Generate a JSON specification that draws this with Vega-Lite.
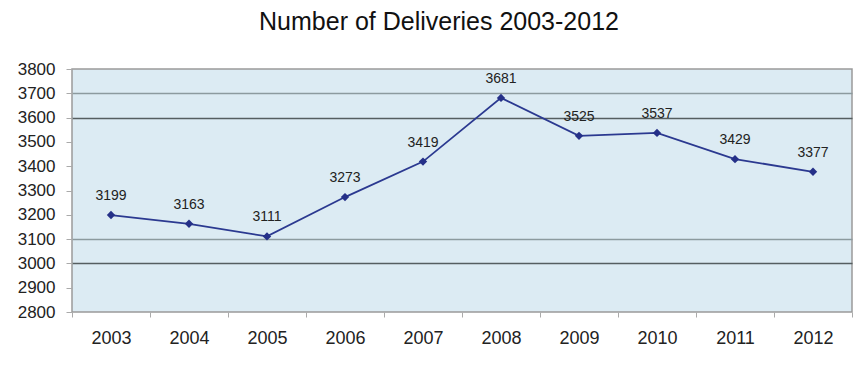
{
  "$schema": "https://vega.github.io/schema/vega-lite/v6.json",
  "width": 780,
  "height": 243,
  "autosize": {"type": "none"},
  "padding": {"left": 72, "top": 69, "right": 15, "bottom": 53},
  "background": "white",
  "title": {
    "text": "Number of Deliveries 2003-2012",
    "font": "Liberation Sans",
    "fontSize": 25,
    "fontWeight": "normal",
    "color": "#111111",
    "anchor": "middle",
    "dx": -23,
    "baseline": "alphabetic",
    "offset": 5
  },
  "config": {
    "view": {"fill": "#dcebf3", "stroke": "#9a9a9a", "strokeWidth": 1.5},
    "font": "Liberation Sans"
  },
  "data": {
    "values": [
      {"year": "2003", "deliveries": 3199},
      {"year": "2004", "deliveries": 3163},
      {"year": "2005", "deliveries": 3111},
      {"year": "2006", "deliveries": 3273},
      {"year": "2007", "deliveries": 3419},
      {"year": "2008", "deliveries": 3681},
      {"year": "2009", "deliveries": 3525},
      {"year": "2010", "deliveries": 3537},
      {"year": "2011", "deliveries": 3429},
      {"year": "2012", "deliveries": 3377}
    ]
  },
  "encoding": {
    "x": {
      "field": "year",
      "type": "ordinal",
      "scale": {"type": "band", "paddingInner": 0, "paddingOuter": 0},
      "axis": {
        "title": null,
        "labelAngle": 0,
        "labelFont": "Liberation Sans",
        "labelFontSize": 18,
        "labelColor": "#222222",
        "labelPadding": 12,
        "domain": false,
        "tickBand": "extent",
        "tickSize": 5,
        "tickColor": "#aaaaaa",
        "grid": false
      }
    },
    "y": {
      "field": "deliveries",
      "type": "quantitative",
      "scale": {"domain": [2800, 3800], "nice": false, "zero": false},
      "axis": {
        "title": null,
        "format": "d",
        "values": [2800, 2900, 3000, 3100, 3200, 3300, 3400, 3500, 3600, 3700, 3800],
        "labelFont": "Liberation Sans",
        "labelFontSize": 17,
        "labelColor": "#222222",
        "labelPadding": 11,
        "domain": false,
        "tickSize": 6,
        "tickColor": "#aaaaaa",
        "grid": true,
        "gridWidth": 1.5,
        "gridColor": {
          "condition": {"test": "datum.value === 3600 || datum.value === 3000", "value": "#555e60"},
          "value": "#8c9a9e"
        },
        "gridOpacity": {
          "condition": {"test": "indexof([3700, 3600, 3100, 3000], datum.value) >= 0", "value": 1},
          "value": 0
        }
      }
    }
  },
  "layer": [
    {
      "mark": {"type": "line", "color": "#2b3990", "strokeWidth": 1.8}
    },
    {
      "mark": {"type": "point", "shape": "diamond", "filled": true, "color": "#253088", "size": 70, "opacity": 1}
    },
    {
      "mark": {"type": "text", "dy": -19, "fontSize": 14, "color": "#222222", "font": "Liberation Sans"},
      "encoding": {"text": {"field": "deliveries", "type": "quantitative"}}
    }
  ]
}
